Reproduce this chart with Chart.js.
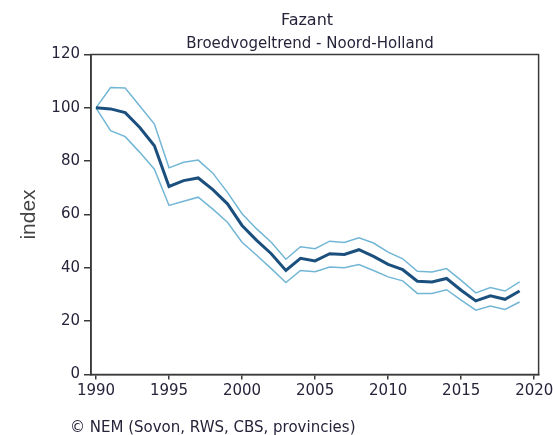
<!DOCTYPE html>
<html>
<head>
<meta charset="utf-8">
<script src="https://cdn.jsdelivr.net/npm/chart.js@4.4.1/dist/chart.umd.min.js"></script>
<style>
  html, body { margin: 0; padding: 0; background: #fff; }
  #wrap { width: 553px; height: 435px; position: relative; }
</style>
</head>
<body>
<div id="wrap"><canvas id="c" width="553" height="435"></canvas></div>
<script>
const titleText = "Fazant";
const subtitleText = "Broedvogeltrend - Noord-Holland";
const footerText = "\u00A9 NEM (Sovon, RWS, CBS, provincies)";
const yAxisTitle = "index";

const years = [1990,1991,1992,1993,1994,1995,1996,1997,1998,1999,
               2000,2001,2002,2003,2004,2005,2006,2007,2008,2009,
               2010,2011,2012,2013,2014,2015,2016,2017,2018,2019];
const indexValues = [100,99.6,98.2,92.6,85.8,70.5,72.7,73.7,69.3,64,
                     55.9,50.3,45.3,39,43.6,42.6,45.3,45,46.8,44.3,
                     41.3,39.3,35,34.7,36,31.6,27.6,29.5,28.2,31.3];
const upperValues = [100,107.6,107.4,100.7,93.9,77.5,79.6,80.4,75.5,68.3,
                     60.3,54.6,49.6,43.2,47.9,47.2,50,49.5,51.3,49.3,
                     45.9,43.4,38.7,38.4,39.7,35.3,30.6,32.6,31.3,34.7];
const lowerValues = [100,91.4,89.2,83.3,77,63.4,65,66.5,62,57.1,
                     49.6,44.7,39.7,34.5,39,38.5,40.3,40,41.2,39,
                     36.6,35.1,30.4,30.4,31.8,27.9,24.1,25.7,24.4,27.2];
const xTicks = [1990,1995,2000,2005,2010,2015,2020];
const yTicks = [0,20,40,60,80,100,120];

const mainColor = "#1b507e";
const boundColor = "#72b6d6";
const axisColor = "#3a3a3a";
const textColor = "#26243a";

const toPts = arr => arr.map((v, i) => ({ x: years[i], y: v }));

const textPlugin = {
  id: 'texts',
  afterDraw(chart) {
    const ctx = chart.ctx;
    const a = chart.chartArea;
    ctx.save();
    // frame (top & right borders)
    ctx.strokeStyle = axisColor;
    ctx.lineWidth = 1.5;
    ctx.strokeRect(a.left, a.top, a.right - a.left, a.bottom - a.top);
    ctx.fillStyle = textColor;
    ctx.textBaseline = 'middle';
    ctx.textAlign = 'center';
    ctx.font = '16px "DejaVu Sans"';
    ctx.fillText(titleText, 307, 21);
    ctx.font = '15px "DejaVu Sans"';
    ctx.fillText(subtitleText, 310, 44);
    ctx.textAlign = 'left';
    ctx.fillText(footerText, 70, 428);
    ctx.restore();
  }
};

new Chart(document.getElementById('c'), {
  type: 'line',
  data: {
    datasets: [
      { label: 'index', data: toPts(indexValues), borderColor: mainColor, borderWidth: 3, pointRadius: 0, tension: 0, order: 0 },
      { label: 'bovengrens', data: toPts(upperValues), borderColor: boundColor, borderWidth: 1.5, pointRadius: 0, tension: 0, order: 1 },
      { label: 'ondergrens', data: toPts(lowerValues), borderColor: boundColor, borderWidth: 1.5, pointRadius: 0, tension: 0, order: 1 }
    ]
  },
  options: {
    responsive: false,
    animation: false,
    events: [],
    layout: { padding: { left: 13, right: 14.4, top: 54.5, bottom: 30.5 } },
    plugins: {
      legend: { display: false },
      title: { display: false },
      tooltip: { enabled: false }
    },
    scales: {
      x: {
        type: 'linear',
        min: 1989.66,
        max: 2020.3,
        afterBuildTicks: s => { s.ticks = xTicks.map(v => ({ value: v })); },
        afterFit: s => { s.height = 30; s.paddingLeft = 0; s.paddingRight = 0; },
        grid: { drawOnChartArea: false, drawTicks: true, tickLength: 5, color: axisColor, lineWidth: 1.5 },
        border: { display: true, color: axisColor, width: 1.5 },
        ticks: { color: textColor, font: { family: 'DejaVu Sans', size: 15 }, padding: 3, maxRotation: 0, autoSkip: false, callback: v => String(v) }
      },
      y: {
        min: 0,
        max: 120,
        afterBuildTicks: s => { s.ticks = yTicks.map(v => ({ value: v })); },
        afterFit: s => { s.width = 78; },
        grid: { drawOnChartArea: false, drawTicks: true, tickLength: 7, color: axisColor, lineWidth: 1.5 },
        border: { display: true, color: axisColor, width: 1.5 },
        ticks: { color: textColor, font: { family: 'DejaVu Sans', size: 15 }, padding: 4 },
        title: { display: true, text: yAxisTitle, color: '#444', font: { family: 'Liberation Sans', size: 21 }, padding: { top: 4, bottom: 4 } }
      }
    }
  },
  plugins: [textPlugin]
});
</script>
</body>
</html>
